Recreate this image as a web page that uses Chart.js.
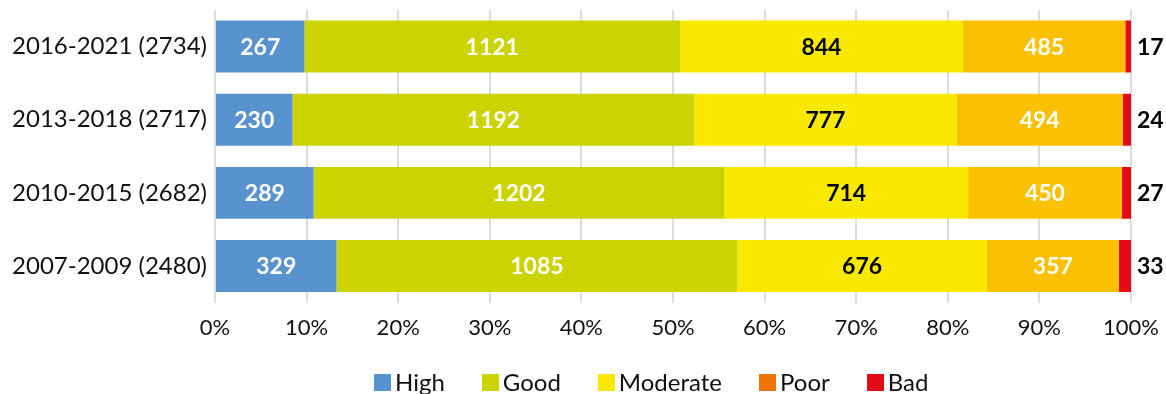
<!DOCTYPE html>
<html>
<head>
<meta charset="utf-8">
<script src="https://cdn.jsdelivr.net/npm/chart.js@4.4.1/dist/chart.umd.min.js"></script>
<style>
    html, body { margin: 0; padding: 0; background: #fff; overflow: hidden; }
    #wrap { position: relative; width: 1166px; height: 394px; }
    #legend { position: absolute; left: 374px; top: 369px; display: flex; font-family: Lato, sans-serif; font-size: 24px; color: #111; }
    #legend .item { display: flex; align-items: center; margin-right: 37px; line-height: 26px; }
    #legend .box { width: 17px; height: 17px; margin-right: 4px; }
</style>
</head>
<body>
<div id="wrap">
    <canvas id="statusChart" width="1166" height="394"></canvas>
    <div id="legend"></div>
</div>
<script>
    var periods = ['2016-2021 (2734)', '2013-2018 (2717)', '2010-2015 (2682)', '2007-2009 (2480)'];
    var classes = ['High', 'Good', 'Moderate', 'Poor', 'Bad'];

    // number of water bodies per class, one entry per period
    var high = [267, 230, 289, 329];
    var good = [1121, 1192, 1202, 1085];
    var moderate = [844, 777, 714, 676];
    var poor = [485, 494, 450, 357];
    var bad = [17, 24, 27, 33];

    var xTicks = [0, 10, 20, 30, 40, 50, 60, 70, 80, 90, 100];

    var barColors = ['#5893cf', '#cbd300', '#f9e800', '#fbc000', '#e30b17'];
    var legendColors = ['#5893cf', '#cbd300', '#f9e800', '#ef7300', '#e30b17'];
    var labelColors = ['#ffffff', '#ffffff', '#000000', '#ffffff', '#000000'];

    var counts = [high, good, moderate, poor, bad];
    var totals = periods.map(function (p, j) {
        var s = 0;
        for (var i = 0; i < counts.length; i++) s += counts[i][j];
        return s;
    });

    var datasets = [];
    for (var i = 0; i < classes.length; i++) {
        datasets.push({
            label: classes[i],
            data: counts[i].map(function (v, j) { return v / totals[j] * 100; }),
            backgroundColor: barColors[i],
            borderWidth: 0,
            categoryPercentage: 1,
            barPercentage: 0.71
        });
    }

    // counts written on each segment, last class goes outside the bar
    var countLabels = {
        id: 'countLabels',
        afterDatasetsDraw: function (chart) {
            var ctx = chart.ctx;
            ctx.save();
            ctx.font = 'bold 23px Lato';
            ctx.textBaseline = 'middle';
            chart.data.datasets.forEach(function (ds, i) {
                var meta = chart.getDatasetMeta(i);
                meta.data.forEach(function (bar, j) {
                    ctx.fillStyle = labelColors[i];
                    if (i === classes.length - 1) {
                        ctx.textAlign = 'left';
                        ctx.fillText(counts[i][j], bar.x + 6, bar.y + 1);
                    } else {
                        ctx.textAlign = 'center';
                        ctx.fillText(counts[i][j], (bar.x + bar.base) / 2, bar.y + 1);
                    }
                });
            });
            ctx.restore();
        }
    };

    var ctx = document.getElementById('statusChart').getContext('2d');
    var statusChart = new Chart(ctx, {
        type: 'bar',
        data: { labels: periods, datasets: datasets },
        options: {
            indexAxis: 'y',
            responsive: false,
            animation: false,
            layout: { padding: { top: 10, right: 35, bottom: 41, left: 0 } },
            plugins: {
                legend: { display: false },
                tooltip: { enabled: false }
            },
            scales: {
                x: {
                    stacked: true,
                    min: 0,
                    max: 100,
                    afterBuildTicks: function (scale) {
                        scale.ticks = xTicks.map(function (v) { return { value: v }; });
                    },
                    afterFit: function (scale) { scale.paddingRight = 0; },
                    grid: { color: '#dcdcdc', lineWidth: 2, drawTicks: false },
                    border: { display: false },
                    ticks: {
                        padding: 12,
                        color: '#111',
                        font: { family: 'Lato', size: 22 },
                        callback: function (v) { return v + '%'; }
                    }
                },
                y: {
                    stacked: true,
                    grid: { display: false, drawTicks: false },
                    border: { display: false },
                    afterFit: function (scale) {
                        scale.width = 215;
                        scale.paddingTop = 0;
                        scale.paddingBottom = 0;
                    },
                    ticks: {
                        padding: 8,
                        color: '#111',
                        font: { family: 'Lato', size: 24 }
                    }
                }
            }
        },
        plugins: [countLabels]
    });

    // legend below the chart
    var legend = document.getElementById('legend');
    classes.forEach(function (name, i) {
        var item = document.createElement('div');
        item.className = 'item';
        item.innerHTML = '<span class="box" style="background:' + legendColors[i] + '"></span>' + name;
        legend.appendChild(item);
    });
</script>
</body>
</html>
